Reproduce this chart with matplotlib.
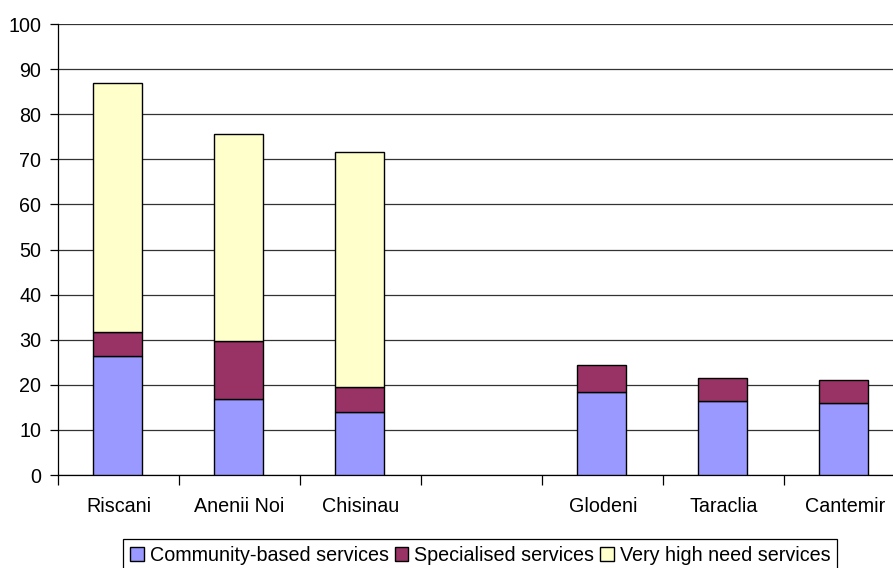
import numpy as np
import matplotlib.pyplot as plt
from matplotlib.ticker import FixedLocator, NullFormatter

plt.rcParams['font.family'] = ['Liberation Sans', 'DejaVu Sans']

# districts; the blank slot keeps the gap between the two groups
districts = ['Riscani', 'Anenii Noi', 'Chisinau', '', 'Glodeni', 'Taraclia', 'Cantemir']
community = [26.4, 16.9, 14.0, np.nan, 18.4, 16.4, 16.0]
specialised = [5.3, 12.8, 5.5, np.nan, 6.0, 5.1, 5.1]
very_high = [55.2, 45.9, 52.1, np.nan, np.nan, np.nan, np.nan]

series = [
    ('Community-based services', community, '#9999FF'),
    ('Specialised services', specialised, '#993366'),
    ('Very high need services', very_high, '#FFFFCC'),
]

fig = plt.figure(figsize=(8.93, 5.68), dpi=100)
ax = fig.add_axes([0.065, 0.1637, 0.949, 0.794])

x = np.arange(len(districts))
bottom = np.zeros(len(districts))
handles = []
for name, vals, col in series:
    vals = np.array(vals, dtype=float)
    b = ax.bar(x - 0.01, vals, width=0.405, bottom=bottom, color=col,
               edgecolor='black', linewidth=1.0, label=name, zorder=3)
    handles.append(b)
    bottom += np.nan_to_num(vals)

ax.set_xlim(-0.5, len(districts) - 0.5)
ax.set_ylim(0, 100)
ax.set_yticks(np.arange(0, 101, 10))
ax.yaxis.grid(True, color='#333333', linewidth=0.9, zorder=0)
ax.tick_params(axis='y', length=6, width=0.9, pad=6, labelsize=14.2)

# category boundaries as major ticks, names centred as minor ticks
ax.xaxis.set_major_locator(FixedLocator(np.arange(-0.5, len(districts), 1.0)))
ax.xaxis.set_major_formatter(NullFormatter())
ax.xaxis.set_minor_locator(FixedLocator(x))
ax.set_xticklabels(districts, minor=True)
ax.tick_params(axis='x', which='major', direction='out', length=7, width=0.9)
ax.tick_params(axis='x', which='minor', length=0, pad=16, labelsize=14.2)

for s in ['top', 'right']:
    ax.spines[s].set_visible(False)
for s in ['left', 'bottom']:
    ax.spines[s].set_linewidth(0.9)

leg = fig.legend(handles=handles, loc='upper left',
                 bbox_to_anchor=(123 / 893, 1 - 539 / 568), ncol=3,
                 fontsize=14.2, frameon=True, fancybox=False, framealpha=1,
                 edgecolor='black', handlelength=0.7, handleheight=0.7,
                 handletextpad=0.3, columnspacing=0.3, borderpad=0.35,
                 borderaxespad=0)
leg.get_frame().set_linewidth(0.9)

fig.savefig('out.png', dpi=100)
